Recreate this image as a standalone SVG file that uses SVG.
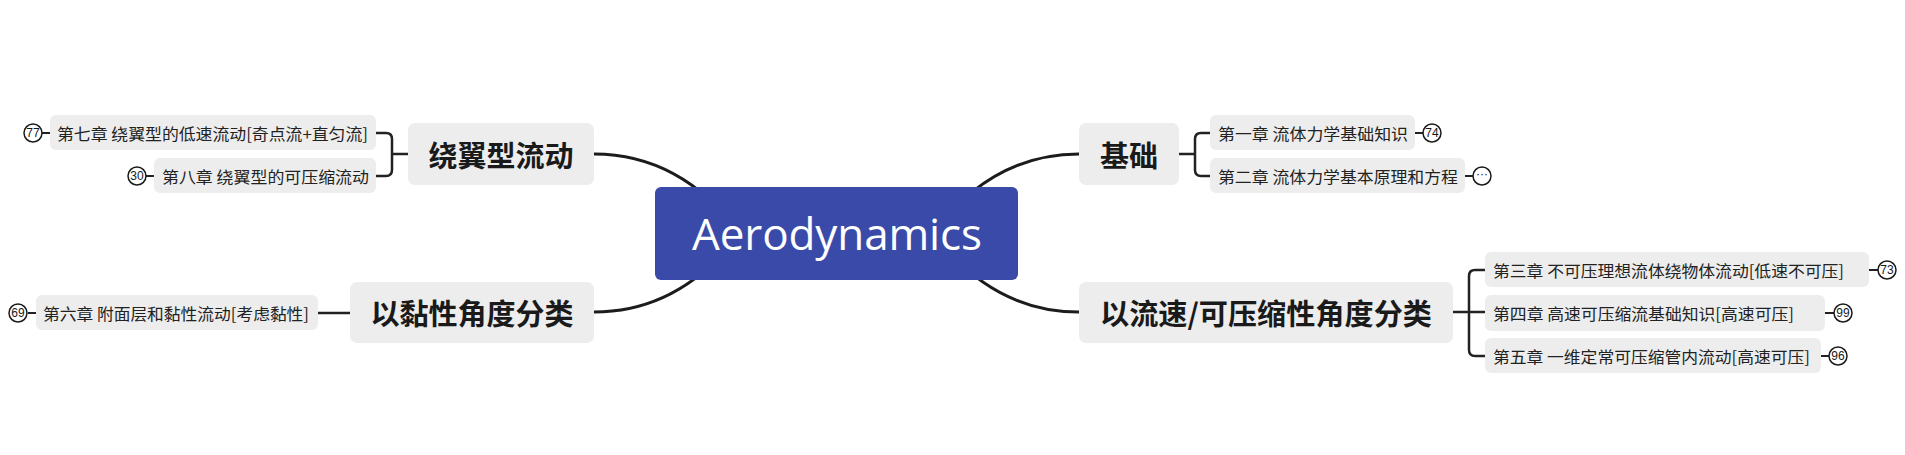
<svg xmlns="http://www.w3.org/2000/svg" width="1905" height="455" viewBox="0 0 1905 455">
<style>
.main{fill:none;stroke:#1c1c1c;stroke-width:3;stroke-linecap:round}
.br{fill:none;stroke:#222;stroke-width:2.5}
.tie{fill:none;stroke:#222;stroke-width:2}
.box{fill:#ededed}
.t1{font-family:"Noto Sans CJK SC","Noto Sans",sans-serif;font-weight:bold;font-size:29px;fill:#1a1a1a;dominant-baseline:central;text-anchor:middle}
.t2{font-family:"Noto Sans CJK SC","Noto Sans",sans-serif;font-size:16px;fill:#222;dominant-baseline:central}
.badge{fill:#fff;stroke:#1a1a1a;stroke-width:1.5}
.num{font-family:"Liberation Sans","Noto Sans",sans-serif;font-size:12px;fill:#1a1a1a;text-anchor:middle;dominant-baseline:central}
</style>
<rect width="1905" height="455" fill="#fff"/>
<g id="connectors">
<path class="main" d="M594,154 Q680,154 740,233"/>
<path class="main" d="M594,312 Q680,312 740,233"/>
<path class="main" d="M1079,154 Q993,154 933,233"/>
<path class="main" d="M1079,312 Q993,312 933,233"/>
<path class="br" d="M376,133 H386 Q392,133 392,139 V170 Q392,176 386,176 H376 M392,154 H408"/>
<path class="br" d="M1210,133 H1201 Q1195,133 1195,139 V170 Q1195,176 1201,176 H1210 M1179,154 H1195"/>
<path class="br" d="M1485,270 H1475 Q1469,270 1469,276 V350 Q1469,356 1475,356 H1485 M1453,312 H1485"/>
<path class="br" d="M318,313 H350"/>
<path class="tie" d="M42,133 H50 M146,176 H154 M28,313 H36 M1415,133 H1423 M1465,176 H1473 M1869,270 H1878 M1825,313 H1834 M1821,356 H1829"/>
</g>
<g id="center">
<rect x="655" y="187" width="363" height="93" rx="6" fill="#3a4aa9"/>
<text x="837" y="233" font-family="'Open Sans','Noto Sans',sans-serif" font-size="44" font-weight="500" fill="#fff" text-anchor="middle" dominant-baseline="central" textLength="290">Aerodynamics</text>
</g>
<g id="n-raoyi">
<rect class="box" x="408" y="123" width="186" height="62" rx="7"/>
<text class="t1" x="501" y="154">绕翼型流动</text>
</g>
<g id="n-nianxing">
<rect class="box" x="350" y="282" width="244" height="61" rx="7"/>
<text class="t1" x="472" y="312">以黏性角度分类</text>
</g>
<g id="n-jichu">
<rect class="box" x="1079" y="123" width="100" height="62" rx="7"/>
<text class="t1" x="1129" y="154">基础</text>
</g>
<g id="n-liusu">
<rect class="box" x="1079" y="282" width="374" height="61" rx="7"/>
<text class="t1" x="1266" y="312" textLength="332" lengthAdjust="spacingAndGlyphs">以流速/可压缩性角度分类</text>
</g>
<g id="c7">
<rect class="box" x="50" y="115" width="326" height="35" rx="6"/>
<text class="t2" x="57" y="133" textLength="311" lengthAdjust="spacingAndGlyphs">第七章 绕翼型的低速流动[奇点流+直匀流]</text>
<circle class="badge" cx="33" cy="133" r="9"/><text class="num" x="33" y="133">77</text>
</g>
<g id="c8">
<rect class="box" x="154" y="158" width="222" height="35" rx="6"/>
<text class="t2" x="162" y="176" textLength="207" lengthAdjust="spacingAndGlyphs">第八章 绕翼型的可压缩流动</text>
<circle class="badge" cx="137" cy="176" r="9"/><text class="num" x="137" y="176">30</text>
</g>
<g id="c6">
<rect class="box" x="36" y="295" width="282" height="35" rx="6"/>
<text class="t2" x="43" y="313" textLength="266" lengthAdjust="spacingAndGlyphs">第六章 附面层和黏性流动[考虑黏性]</text>
<circle class="badge" cx="18" cy="313" r="9"/><text class="num" x="18" y="313">69</text>
</g>
<g id="c1">
<rect class="box" x="1210" y="115" width="205" height="35" rx="6"/>
<text class="t2" x="1218" y="133" textLength="190" lengthAdjust="spacingAndGlyphs">第一章 流体力学基础知识</text>
<circle class="badge" cx="1432" cy="133" r="9"/><text class="num" x="1432" y="133">74</text>
</g>
<g id="c2">
<rect class="box" x="1210" y="158" width="255" height="35" rx="6"/>
<text class="t2" x="1218" y="176" textLength="240" lengthAdjust="spacingAndGlyphs">第二章 流体力学基本原理和方程</text>
<circle class="badge" cx="1482" cy="176" r="9"/><text class="num" x="1482" y="174">···</text>
</g>
<g id="c3">
<rect class="box" x="1485" y="252" width="384" height="35" rx="6"/>
<text class="t2" x="1493" y="270" textLength="351" lengthAdjust="spacingAndGlyphs">第三章 不可压理想流体绕物体流动[低速不可压]</text>
<circle class="badge" cx="1887" cy="270" r="9"/><text class="num" x="1887" y="270">73</text>
</g>
<g id="c4">
<rect class="box" x="1485" y="295" width="340" height="36" rx="6"/>
<text class="t2" x="1493" y="313" textLength="301" lengthAdjust="spacingAndGlyphs">第四章 高速可压缩流基础知识[高速可压]</text>
<circle class="badge" cx="1843" cy="313" r="9"/><text class="num" x="1843" y="313">99</text>
</g>
<g id="c5">
<rect class="box" x="1485" y="338" width="336" height="35" rx="6"/>
<text class="t2" x="1493" y="356" textLength="317" lengthAdjust="spacingAndGlyphs">第五章 一维定常可压缩管内流动[高速可压]</text>
<circle class="badge" cx="1838" cy="356" r="9"/><text class="num" x="1838" y="356">96</text>
</g>
</svg>
